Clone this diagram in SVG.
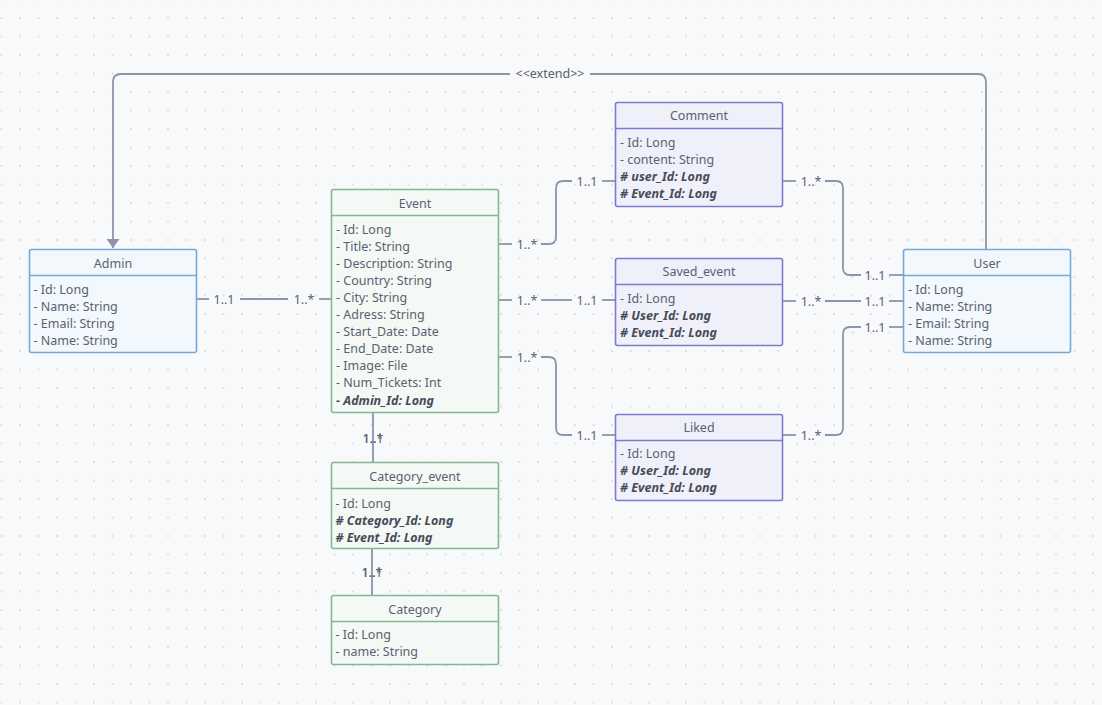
<svg xmlns="http://www.w3.org/2000/svg" width="1102" height="705" viewBox="0 0 1102 705">
  <defs>
    <pattern id="dots" x="1.5" y="-0.5" width="18.5" height="18.5" patternUnits="userSpaceOnUse">
      <circle cx="0" cy="0" r="1" fill="#d3d6dd"/>
      <circle cx="18.5" cy="0" r="1" fill="#d3d6dd"/>
      <circle cx="0" cy="18.5" r="1" fill="#d3d6dd"/>
      <circle cx="18.5" cy="18.5" r="1" fill="#d3d6dd"/>
    </pattern>
    <marker id="tri" markerWidth="10" markerHeight="13" refX="9" refY="6.5" orient="auto" markerUnits="userSpaceOnUse">
      <path d="M0,0 L9,6.5 L0,13 Z" fill="#8d93ab"/>
    </marker>
    <style>
      text { font-family: "Noto Sans", "Open Sans", sans-serif; font-size: 12.5px; fill: #5a6170; }
      .title { text-anchor: middle; }
      .fk { font-weight: bold; font-style: italic; fill: #464c58; }
      .lbl { text-anchor: middle; fill: #5a6170; }
      .blue rect, .blue line { stroke: #74a9d8; stroke-width: 1.6; }
      .blue rect { fill: #f3f8fc; }
      .green rect, .green line { stroke: #82b896; stroke-width: 1.6; }
      .green rect { fill: #f4f9f6; }
      .purple rect, .purple line { stroke: #7b7bcc; stroke-width: 1.6; }
      .purple rect { fill: #eff0fa; }
      .conn path, .conn line { fill: none; stroke: #8d93ab; stroke-width: 1.8; }
    </style>
  </defs>

  <!-- canvas -->
  <rect width="1102" height="705" fill="#f8f9fb"/>
  <rect width="1102" height="705" fill="url(#dots)"/>

  <!-- connectors -->
  <g id="connectors" class="conn">
    <!-- User extends Admin -->
    <path d="M986,249 V82 Q986,74 978,74 H590"/>
    <path d="M510,74 H121 Q113,74 113,82 V248" marker-end="url(#tri)"/>
    <text class="lbl" x="550" y="78">&lt;&lt;extend&gt;&gt;</text>

    <!-- Admin - Event -->
    <line x1="196" y1="299" x2="209" y2="299"/>
    <line x1="240" y1="299" x2="288" y2="299"/>
    <line x1="319" y1="299" x2="331" y2="299"/>
    <text class="lbl" x="224" y="303.5">1..1</text>
    <text class="lbl" x="304" y="303.5">1..*</text>

    <!-- Event - Comment -->
    <line x1="498" y1="244" x2="512" y2="244"/>
    <path d="M541,244 H549 Q556,244 556,237 V188 Q556,181 563,181 H572"/>
    <line x1="602" y1="181" x2="615" y2="181"/>
    <text class="lbl" x="527" y="248.5">1..*</text>
    <text class="lbl" x="587" y="185.5">1..1</text>

    <!-- Event - Saved_event -->
    <line x1="498" y1="300" x2="512" y2="300"/>
    <line x1="541" y1="300" x2="572" y2="300"/>
    <line x1="602" y1="300" x2="615" y2="300"/>
    <text class="lbl" x="527" y="304.5">1..*</text>
    <text class="lbl" x="587" y="304.5">1..1</text>

    <!-- Event - Liked -->
    <line x1="498" y1="357" x2="512" y2="357"/>
    <path d="M541,357 H549 Q556,357 556,364 V428 Q556,435 563,435 H572"/>
    <line x1="602" y1="435" x2="615" y2="435"/>
    <text class="lbl" x="527" y="361.5">1..*</text>
    <text class="lbl" x="587" y="439.5">1..1</text>

    <!-- Comment - User -->
    <line x1="782" y1="181" x2="796" y2="181"/>
    <path d="M825,181 H836 Q843,181 843,188 V268 Q843,275 850,275 H861"/>
    <line x1="889" y1="275" x2="904" y2="275"/>
    <text class="lbl" x="811" y="185.5">1..*</text>
    <text class="lbl" x="875" y="279.5">1..1</text>

    <!-- Saved_event - User -->
    <line x1="782" y1="301" x2="796" y2="301"/>
    <line x1="825" y1="301" x2="861" y2="301"/>
    <line x1="889" y1="301" x2="904" y2="301"/>
    <text class="lbl" x="811" y="305.5">1..*</text>
    <text class="lbl" x="875" y="305.5">1..1</text>

    <!-- Liked - User -->
    <line x1="782" y1="435" x2="796" y2="435"/>
    <path d="M825,435 H836 Q843,435 843,428 V334 Q843,327 850,327 H861"/>
    <line x1="889" y1="327" x2="904" y2="327"/>
    <text class="lbl" x="811" y="439.5">1..*</text>
    <text class="lbl" x="875" y="331.5">1..1</text>

    <!-- Event - Category_event (both end labels share one spot) -->
    <line x1="373" y1="412" x2="373" y2="462"/>
    <text class="lbl" x="373" y="443">1..1</text>
    <text class="lbl" x="373" y="443">1..*</text>

    <!-- Category_event - Category -->
    <line x1="372" y1="548" x2="372" y2="595"/>
    <text class="lbl" x="372" y="577">1..1</text>
    <text class="lbl" x="372" y="577">1..*</text>
  </g>

  <!-- Admin -->
  <g id="admin" class="blue">
    <rect x="29.5" y="249.5" width="167" height="103" rx="2"/>
    <line x1="29.5" y1="275.5" x2="196.5" y2="275.5"/>
    <text class="title" x="113" y="267.5">Admin</text>
    <text x="33.5" y="294">- Id: Long</text>
    <text x="33.5" y="311">- Name: String</text>
    <text x="33.5" y="328">- Email: String</text>
    <text x="33.5" y="345">- Name: String</text>
  </g>

  <!-- Event -->
  <g id="event" class="green">
    <rect x="331.5" y="189.5" width="167" height="223" rx="2"/>
    <line x1="331.5" y1="215.5" x2="498.5" y2="215.5"/>
    <text class="title" x="415" y="207.5">Event</text>
    <text x="336" y="233.5">- Id: Long</text>
    <text x="336" y="250.6">- Title: String</text>
    <text x="336" y="267.7">- Description: String</text>
    <text x="336" y="284.8">- Country: String</text>
    <text x="336" y="301.9">- City: String</text>
    <text x="336" y="319">- Adress: String</text>
    <text x="336" y="336.1">- Start_Date: Date</text>
    <text x="336" y="353.2">- End_Date: Date</text>
    <text x="336" y="370.3">- Image: File</text>
    <text x="336" y="387.4">- Num_Tickets: Int</text>
    <text class="fk" x="336" y="404.5">- Admin_Id: Long</text>
  </g>

  <!-- Comment -->
  <g id="comment" class="purple">
    <rect x="615.5" y="102.5" width="167" height="104" rx="2"/>
    <line x1="615.5" y1="128.5" x2="782.5" y2="128.5"/>
    <text class="title" x="699" y="120">Comment</text>
    <text x="620" y="146.5">- Id: Long</text>
    <text x="620" y="163.5">- content: String</text>
    <text class="fk" x="620" y="180.5"># user_Id: Long</text>
    <text class="fk" x="620" y="197.5"># Event_Id: Long</text>
  </g>

  <!-- Saved_event -->
  <g id="saved_event" class="purple">
    <rect x="615.5" y="258.5" width="167" height="87" rx="2"/>
    <line x1="615.5" y1="284.5" x2="782.5" y2="284.5"/>
    <text class="title" x="699" y="276">Saved_event</text>
    <text x="620" y="302.5">- Id: Long</text>
    <text class="fk" x="620" y="319.5"># User_Id: Long</text>
    <text class="fk" x="620" y="336.5"># Event_Id: Long</text>
  </g>

  <!-- Liked -->
  <g id="liked" class="purple">
    <rect x="615.5" y="414.5" width="167" height="86" rx="2"/>
    <line x1="615.5" y1="440.5" x2="782.5" y2="440.5"/>
    <text class="title" x="699" y="431.5">Liked</text>
    <text x="620" y="457.5">- Id: Long</text>
    <text class="fk" x="620" y="474.5"># User_Id: Long</text>
    <text class="fk" x="620" y="491.5"># Event_Id: Long</text>
  </g>

  <!-- User -->
  <g id="user" class="blue">
    <rect x="903.5" y="249.5" width="167" height="103" rx="2"/>
    <line x1="903.5" y1="275.5" x2="1070.5" y2="275.5"/>
    <text class="title" x="987" y="267.5">User</text>
    <text x="908" y="294">- Id: Long</text>
    <text x="908" y="311">- Name: String</text>
    <text x="908" y="328">- Email: String</text>
    <text x="908" y="345">- Name: String</text>
  </g>

  <!-- Category_event -->
  <g id="category_event" class="green">
    <rect x="331.5" y="462.5" width="167" height="86" rx="2"/>
    <line x1="331.5" y1="488.5" x2="498.5" y2="488.5"/>
    <text class="title" x="415" y="480.5">Category_event</text>
    <text x="335.5" y="507.5">- Id: Long</text>
    <text class="fk" x="335.5" y="524.5"># Category_Id: Long</text>
    <text class="fk" x="335.5" y="541.5"># Event_Id: Long</text>
  </g>

  <!-- Category -->
  <g id="category" class="green">
    <rect x="331.5" y="595.5" width="167" height="69" rx="2"/>
    <line x1="331.5" y1="621.5" x2="498.5" y2="621.5"/>
    <text class="title" x="415" y="613.5">Category</text>
    <text x="335.5" y="639">- Id: Long</text>
    <text x="335.5" y="656">- name: String</text>
  </g>
</svg>
